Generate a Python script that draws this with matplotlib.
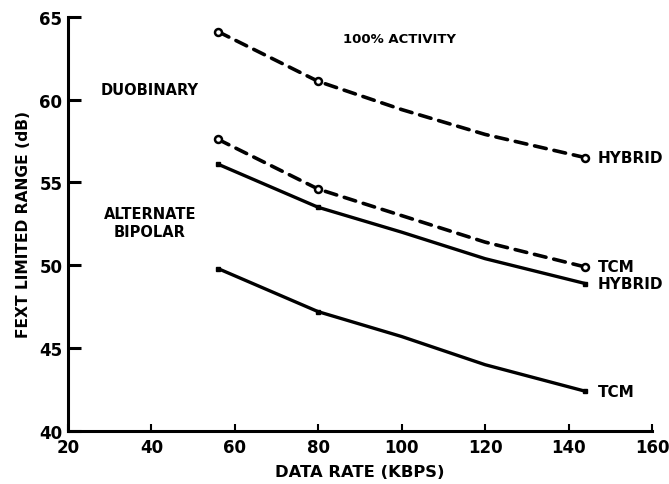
import matplotlib.pyplot as plt

# data
rate = [56, 80, 100, 120, 144]
duo_hybrid = [64.1, 61.1, 59.4, 57.9, 56.5]
duo_tcm = [57.6, 54.6, 53.0, 51.4, 49.9]
bip_hybrid = [56.1, 53.5, 52.0, 50.4, 48.9]
bip_tcm = [49.8, 47.2, 45.7, 44.0, 42.4]

xticks = [20, 40, 60, 80, 100, 120, 140, 160]
yticks = [40, 45, 50, 55, 60, 65]

plt.rcParams['font.family'] = 'DejaVu Sans'
plt.rcParams['font.weight'] = 'bold'

fig = plt.figure(figsize=(6.69, 4.85), dpi=100)
ax = fig.add_axes([0.1016, 0.1093, 0.873, 0.854])

dash = (0, (3.3, 2.2))
for ys in (duo_hybrid, duo_tcm):
    ax.plot(rate, ys, color='black', lw=2.6, linestyle=dash,
            dash_capstyle='round', solid_joinstyle='round')
for ys in (bip_hybrid, bip_tcm):
    ax.plot(rate, ys, color='black', lw=2.4, solid_capstyle='round',
            solid_joinstyle='round')

# measured points
idx = [0, 1, 4]
for ys in (duo_hybrid, duo_tcm):
    ax.plot([rate[i] for i in idx], [ys[i] for i in idx], 'o', ms=5,
            mfc='white', mec='black', mew=1.8, linestyle='none')
for ys in (bip_hybrid, bip_tcm):
    ax.plot([rate[i] for i in idx], [ys[i] for i in idx], 's', ms=3,
            color='black', linestyle='none')

ax.set_xlim(20, 160)
ax.set_ylim(40, 65)
ax.set_xticks(xticks)
ax.set_yticks(yticks)
ax.tick_params(axis='y', direction='in', length=9, width=2.2, labelsize=12, pad=4)
ax.tick_params(axis='x', direction='in', length=5, width=1.5, labelsize=12, pad=5)
for lab in ax.get_xticklabels() + ax.get_yticklabels():
    lab.set_fontweight('heavy')
for s in ['top', 'right']:
    ax.spines[s].set_visible(False)
for s in ['left', 'bottom']:
    ax.spines[s].set_linewidth(2.2)

ax.set_ylabel('FEXT LIMITED RANGE (dB)', fontsize=11.2, fontweight='heavy', labelpad=6)
ax.set_xlabel('DATA RATE (KBPS)', fontsize=11.8, fontweight='heavy', labelpad=6)

ax.text(99.4, 63.7, '100% ACTIVITY', fontsize=9.5, fontweight='heavy', ha='center', va='center')
ax.text(39.6, 60.6, 'DUOBINARY', fontsize=10.5, fontweight='heavy', ha='center', va='center')
ax.text(39.6, 52.6, 'ALTERNATE\nBIPOLAR', fontsize=10.5, fontweight='heavy',
        ha='center', va='center', linespacing=1.25)

ax.text(147, duo_hybrid[-1], 'HYBRID', fontsize=11, fontweight='heavy', va='center')
ax.text(147, duo_tcm[-1], 'TCM', fontsize=11, fontweight='heavy', va='center')
ax.text(147, bip_hybrid[-1], 'HYBRID', fontsize=11, fontweight='heavy', va='center')
ax.text(147, bip_tcm[-1], 'TCM', fontsize=11, fontweight='heavy', va='center')

for line in ax.lines:
    line.set_clip_on(False)

fig.savefig('out.png', dpi=100)
